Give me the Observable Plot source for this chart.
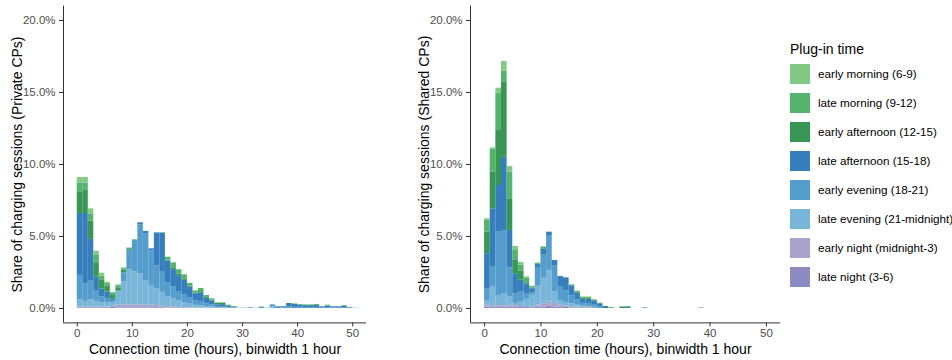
<!DOCTYPE html>
<html><head><meta charset="utf-8">
<script src="https://cdn.jsdelivr.net/npm/d3@7"></script>
<script src="https://cdn.jsdelivr.net/npm/@observablehq/plot@0.6"></script>
<style>
body{margin:0;background:#fff;font-family:"Liberation Sans",Arial,sans-serif;}
#wrap{position:relative;width:952px;height:360px;background:#fff;overflow:hidden}
#left{position:absolute;left:0;top:0}
#right{position:absolute;left:407px;top:0}
#legend{position:absolute;left:790px;top:41px;color:#000;white-space:nowrap}
#legend .ttl{font-size:14px;margin:0 0 1px 0;line-height:17px}
#legend .row{display:flex;align-items:center;height:29px}
#legend .sw{width:20px;height:20px;margin-right:8px;opacity:0.9;flex:none}
#legend .lab{font-size:11.7px;white-space:nowrap}
</style></head><body>
<div id="wrap"><div id="left"></div><div id="right"></div><div id="legend"></div></div>
<script>
// Legend order (top of stack first)
const categories = ["early morning (6-9)","late morning (9-12)","early afternoon (12-15)","late afternoon (15-18)","early evening (18-21)","late evening (21-midnight)","early night (midnight-3)","late night (3-6)"];
const colors = ["#74c476","#41ab5d","#238b45","#2171b5","#4292c6","#6baed6","#9e9ac8","#807dba"];
const legendTitle = "Plug-in time";
const xTitle = "Connection time (hours), binwidth 1 hour";
const yTitlePrivate = "Share of charging sessions (Private CPs)";
const yTitleShared = "Share of charging sessions (Shared CPs)";
const xTicks = [0,10,20,30,40,50];
const yTicks = [0,5,10,15,20];
const xDomain = [-2.5, 52.5];
const yDomain = [-1, 21];
const binWidth = 1;
const binStarts = d3.range(0, 51);

// Private CPs, share (%) per 1-hour bin (bins 0..50)
const privEarlyMorning   = [0.4,0.4,0.35,0.3,0.2,0.08,0.08,0.06,0.05,0.02,0.02,0,0,0,0,0,0,0,0,0,0,0,0,0,0,0,0,0,0,0,0,0,0,0,0,0,0,0,0,0,0,0,0,0,0,0,0,0,0,0,0];
const privLateMorning    = [0.6,0.5,0.5,0.5,0.3,0.2,0.15,0.14,0.1,0.04,0.02,0,0,0,0,0,0.2,0.35,0.3,0.28,0.18,0.15,0.22,0.14,0.1,0.04,0.04,0.03,0.02,0,0.01,0,0,0,0,0,0,0,0,0.04,0.05,0.05,0.05,0.08,0,0.07,0,0,0.02,0,0];
const privEarlyAfternoon = [1.5,1.6,1.27,1.0,0.6,0.4,0.25,0.22,0.2,0.1,0.05,0,0,0,0,0.03,0.06,0.12,0.11,0.1,0.07,0.05,0.08,0.06,0.05,0.1,0.08,0.05,0.03,0.01,0,0,0,0,0,0,0,0,0,0,0,0,0,0,0,0,0,0,0,0,0];
const privLateAfternoon  = [4.3,4.9,2.9,0.98,0.55,0.45,0.1,0.02,0.07,0.05,0.05,0.15,0.15,0.14,2.3,2.7,1.5,1.2,1.1,1.0,0.75,0.5,0.6,0.37,0.27,0.12,0.14,0.07,0.04,0.01,0,0,0,0.07,0,0,0.05,0.06,0.25,0.2,0.15,0.13,0.13,0.14,0.07,0.1,0.08,0.08,0.12,0.04,0];
const privEarlyEvening   = [1.7,1.2,1.3,0.7,0.4,0.3,0.15,0.05,0.55,1.3,2.1,3.4,3.3,2.4,1.6,1.4,1.0,0.8,0.65,0.55,0.45,0.3,0.3,0.2,0.15,0.08,0.08,0.05,0.03,0,0.01,0.04,0.01,0.02,0.02,0.15,0.07,0.06,0.1,0.08,0.08,0.07,0.07,0.06,0.05,0.06,0.04,0.04,0.05,0.03,0.02];
const privLateEvening    = [0.5,0.4,0.5,0.4,0.3,0.3,0.25,0.9,1.6,2.45,2.3,2.15,1.65,1.35,1.15,0.96,0.67,0.59,0.45,0.34,0.25,0.18,0.15,0.1,0.08,0.05,0.05,0.03,0.02,0,0,0.03,0,0,0,0.1,0,0,0,0,0,0,0,0,0,0,0,0,0,0,0];
const privEarlyNight     = [0.05,0.05,0.05,0.05,0.05,0.05,0.07,0.2,0.2,0.2,0.2,0.2,0.2,0.2,0.15,0.12,0.1,0.08,0.06,0.05,0.04,0.03,0.03,0.03,0.02,0,0,0,0,0,0,0,0,0,0,0,0,0,0,0,0,0,0,0,0,0,0,0,0,0,0];
const privLateNight      = [0.05,0.05,0.05,0.05,0.05,0.05,0.08,0.05,0.05,0.05,0.05,0.05,0.05,0.05,0.05,0.04,0.03,0.03,0.02,0.02,0.01,0.01,0.01,0,0,0,0,0,0,0,0,0,0,0,0,0,0,0,0,0,0,0,0,0,0,0,0,0,0,0,0];

// Shared CPs, share (%) per 1-hour bin (bins 0..50)
const shEarlyMorning   = [0.08,0.09,0.35,0.67,0.4,0.28,0.2,0.11,0.03,0,0.05,0,0,0,0,0,0,0,0,0,0,0,0,0,0,0,0,0,0,0,0,0,0,0,0,0,0,0,0,0,0,0,0,0,0,0,0,0,0,0,0];
const shLateMorning    = [0.84,1.6,2.59,0.78,1.85,0.69,0.41,0.3,0.1,0.05,0.1,0,0,0,0,0.05,0.12,0.1,0.1,0.05,0.03,0,0,0,0.04,0,0,0,0.05,0,0,0,0,0,0,0,0,0,0,0,0,0,0,0,0,0,0,0,0,0,0];
const shEarlyAfternoon = [1.5,2.55,3.82,5.2,2.2,0.93,0.6,0.1,0.05,0.05,0.05,0,0,0,0,0.02,0.04,0.05,0.05,0.05,0.02,0.07,0.05,0,0.08,0.06,0,0,0,0,0,0,0,0,0,0,0,0,0,0,0,0,0,0,0,0,0,0,0,0,0];
const shLateAfternoon  = [2.43,4.05,3.24,5.08,2.6,1.39,0.85,0.7,0.3,0.2,0.4,0.23,0.35,0.74,0.91,0.7,0.45,0.28,0.29,0.27,0.22,0.07,0,0,0,0.06,0,0,0,0,0,0,0,0,0,0,0,0,0,0,0,0,0,0,0,0,0,0,0,0,0];
const shEarlyEvening   = [0.86,1.39,4.4,4.42,2.0,0.67,0.7,0.35,0.15,1.3,1.6,2.42,1.83,0.93,0.8,0.55,0.35,0.2,0.2,0.15,0.1,0,0,0,0,0,0,0,0,0,0,0,0,0,0,0,0,0,0.04,0,0,0,0,0,0,0,0,0,0,0,0];
const shLateEvening    = [0.3,1.27,0.7,0.8,0.6,0.15,0.3,0.5,0.8,1.3,1.8,2.2,0.8,0.32,0.25,0.2,0.15,0.1,0.1,0.08,0,0,0,0,0,0,0,0,0,0,0,0,0,0,0,0,0,0,0,0,0,0,0,0,0,0,0,0,0,0,0];
const shEarlyNight     = [0.12,0.11,0.1,0.1,0.12,0.1,0.07,0.07,0.06,0.15,0.2,0.3,0.25,0.15,0.1,0.07,0.05,0.03,0.03,0,0,0,0,0,0,0,0,0,0,0,0,0,0,0,0,0,0,0,0,0,0,0,0,0,0,0,0,0,0,0,0];
const shLateNight      = [0.1,0.1,0.1,0.1,0.1,0.1,0.07,0.07,0.06,0.1,0.1,0.15,0.1,0.08,0.07,0.05,0.04,0.03,0.02,0,0,0,0,0,0,0,0,0,0,0,0,0,0,0,0,0,0,0,0,0,0,0,0,0,0,0,0,0,0,0,0];

const privSeries = [privEarlyMorning,privLateMorning,privEarlyAfternoon,privLateAfternoon,privEarlyEvening,privLateEvening,privEarlyNight,privLateNight];
const shSeries = [shEarlyMorning,shLateMorning,shEarlyAfternoon,shLateAfternoon,shEarlyEvening,shLateEvening,shEarlyNight,shLateNight];

const FONT = '"Liberation Sans", Arial, sans-serif';

function panel(series, yTitle, width) {
  const data = [];
  // bottom of stack = last legend entry
  for (let k = categories.length - 1; k >= 0; k--) {
    series[k].forEach((v, i) => {
      if (v > 0) data.push({bin: binStarts[i], end: binStarts[i] + binWidth, cat: categories[k], v});
    });
  }
  return Plot.plot({
    width, height: 360,
    marginLeft: 63, marginRight: 6, marginTop: 5.6, marginBottom: 37.6,
    x: {domain: xDomain},
    y: {domain: yDomain},
    color: {domain: categories, range: colors},
    style: {fontFamily: FONT, fontSize: "11.5px", color: "#4d4d4d", background: "white"},
    marks: [
      Plot.rectY(data, {x1: "bin", x2: "end", y: "v", fill: "cat", fillOpacity: 0.9}),
      Plot.ruleX([xDomain[0]], {stroke: "#333", strokeWidth: 1}),
      Plot.ruleY([yDomain[0]], {stroke: "#333", strokeWidth: 1}),
      Plot.axisX(xTicks, {tickSize: 4, tickPadding: 2, label: null, stroke: "#333", fill: "#4d4d4d"}),
      Plot.axisY(yTicks, {tickSize: 4, tickPadding: 4, label: null, stroke: "#333", fill: "#4d4d4d", tickFormat: d => d.toFixed(1) + "%"}),
      Plot.text([xTitle], {frameAnchor: "bottom", dy: 31, fontSize: 14, fill: "black"}),
      Plot.text([yTitle], {frameAnchor: "left", textAnchor: "middle", rotate: -90, dx: -46, fontSize: 14, fill: "black"})
    ]
  });
}

document.getElementById("left").appendChild(panel(privSeries, yTitlePrivate, 372));
document.getElementById("right").appendChild(panel(shSeries, yTitleShared, 379));

const lg = document.getElementById("legend");
const t = document.createElement("div"); t.className = "ttl"; t.textContent = legendTitle; lg.appendChild(t);
categories.forEach((c, i) => {
  const r = document.createElement("div"); r.className = "row";
  const s = document.createElement("div"); s.className = "sw"; s.style.background = colors[i];
  const l = document.createElement("div"); l.className = "lab"; l.textContent = c;
  r.appendChild(s); r.appendChild(l); lg.appendChild(r);
});
</script>
</body></html>
